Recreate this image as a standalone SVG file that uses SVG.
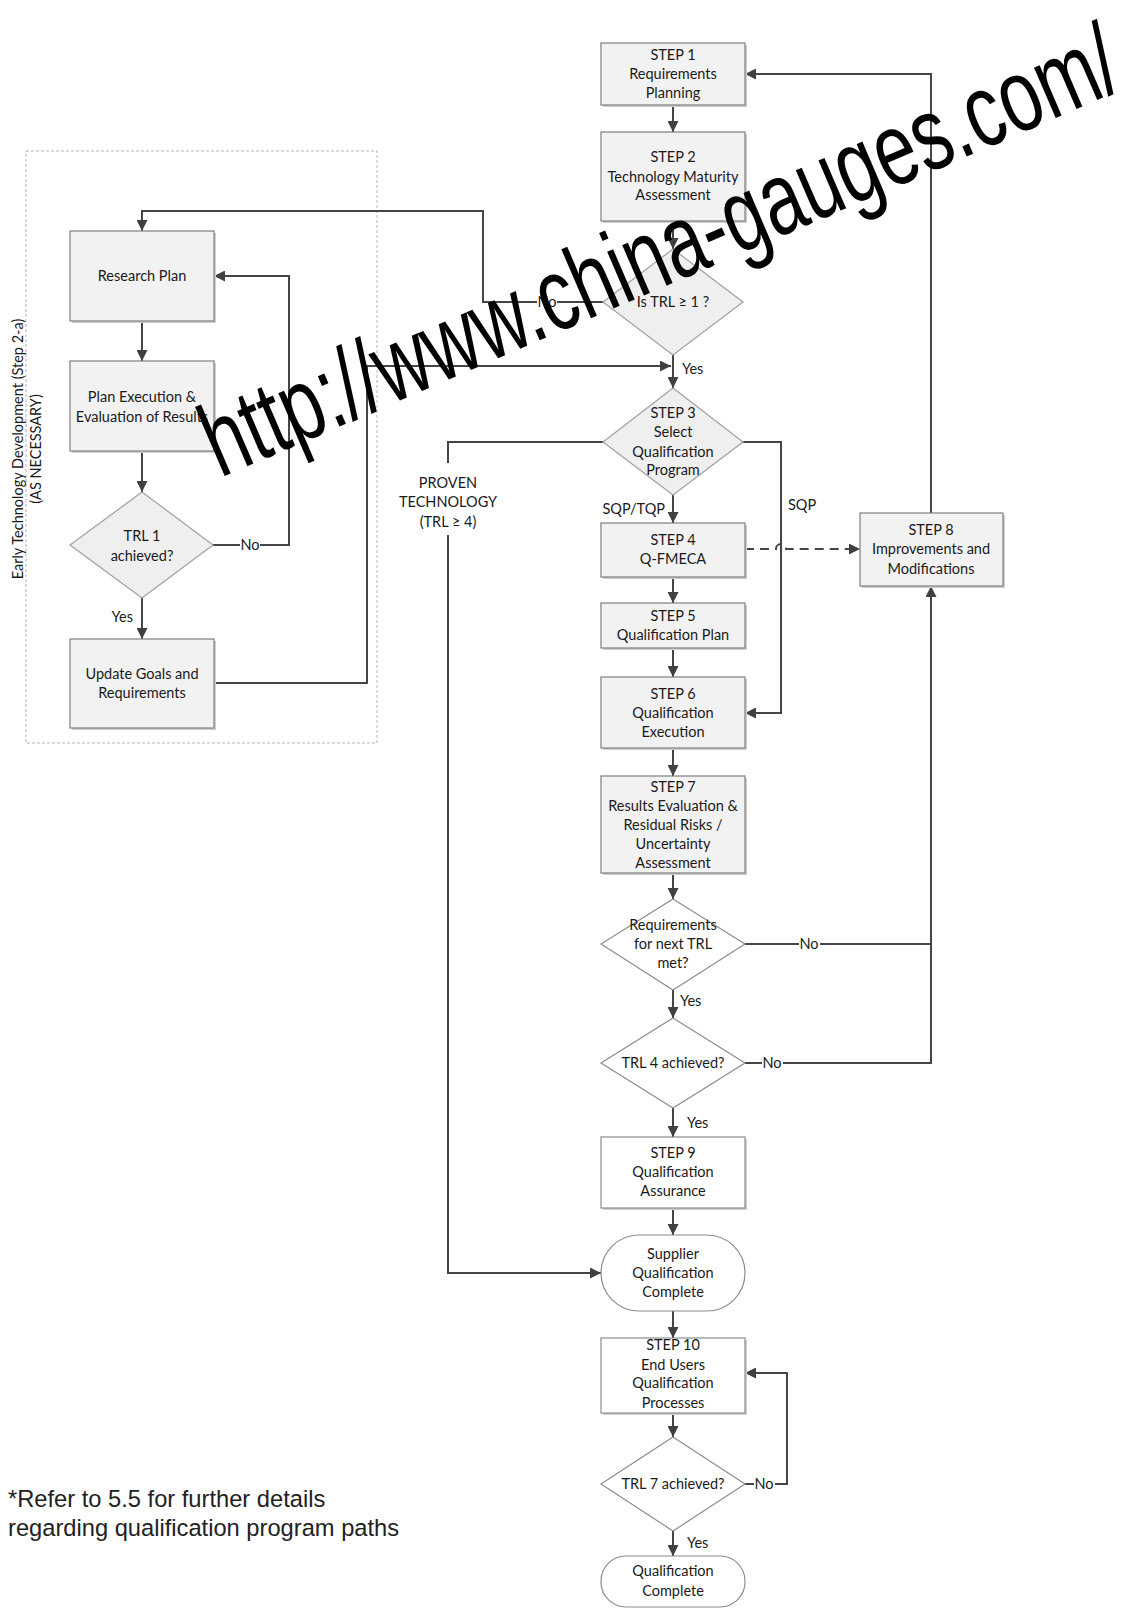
<svg xmlns="http://www.w3.org/2000/svg" width="1131" height="1608" viewBox="0 0 1131 1608">
<defs>
<marker id="ah" viewBox="0 0 10 10" refX="10" refY="5" markerWidth="11" markerHeight="11" markerUnits="userSpaceOnUse" orient="auto"><path d="M0,0 L10,5 L0,10 z" fill="#404040"/></marker>
</defs>
<style>
.t{font-family:Lato,"Liberation Sans",sans-serif;font-size:14.5px;fill:#1a1a1a;text-anchor:middle}
.l{font-family:Lato,"Liberation Sans",sans-serif;font-size:14.5px;fill:#1a1a1a}
.box{fill:#f2f2f2;stroke:#7f7f7f;stroke-width:1.2}
.wbox{fill:#ffffff;stroke:#8c8c8c;stroke-width:1.2}
.sh{fill:#cfcfcf}
.dia{fill:#efefef;stroke:#a0a0a0;stroke-width:1.2}
.wdia{fill:#ffffff;stroke:#8c8c8c;stroke-width:1.2}
.c{fill:none;stroke:#454545;stroke-width:2}
.ca{fill:none;stroke:#454545;stroke-width:2;marker-end:url(#ah)}
.lbg{fill:#ffffff}
</style>
<rect width="1131" height="1608" fill="#ffffff"/>

<!-- Early technology development container -->
<g id="early-dev">
<rect x="26" y="151" width="351" height="592" fill="none" stroke="#b5b5b5" stroke-width="1" stroke-dasharray="3,2"/>
<text class="t" transform="translate(23,449) rotate(-90)">Early Technology Development (Step 2-a)</text>
<text class="t" transform="translate(41,449) rotate(-90)">(AS NECESSARY)</text>
</g>

<g id="connectors">
<path class="ca" d="M673,105 V132"/>
<path class="ca" d="M673,221 V249"/>
<path class="ca" d="M673,355 V388"/>
<path class="ca" d="M603,302 H483 V211 H142 V231"/>
<path class="ca" d="M142,321 V361"/>
<path class="ca" d="M142,451 V492"/>
<path class="ca" d="M142,598 V639"/>
<path class="ca" d="M213,545 H289 V276 H214"/>
<path class="ca" d="M214,683 H367 V366 H671"/>
<path class="ca" d="M673,495 V523"/>
<path class="c" d="M603,442 H448 V463"/>
<path class="ca" d="M448,535 V1273 H601"/>
<path class="ca" d="M743,442 H781 V713 H745"/>
<path class="ca" d="M745,549 H776 A5,5 0 0 1 786,549 H860" stroke-dasharray="9,6"/>
<path class="ca" d="M673,577 V603"/>
<path class="ca" d="M673,648 V677"/>
<path class="ca" d="M673,748 V776"/>
<path class="ca" d="M673,873 V899"/>
<path class="c" d="M745,944 H931" stroke-width="1.5"/>
<path class="ca" d="M673,990 V1018"/>
<path class="ca" d="M745,1063 H931 V586"/>
<path class="ca" d="M673,1108 V1137"/>
<path class="ca" d="M931,513 V74 H745"/>
<path class="ca" d="M673,1208 V1235"/>
<path class="ca" d="M673,1311 V1338"/>
<path class="ca" d="M673,1413 V1437"/>
<path class="ca" d="M745,1484 H787 V1373 H745"/>
<path class="ca" d="M673,1531 V1556"/>
<!-- connector labels -->
<rect class="lbg" x="537" y="293" width="20" height="17"/>
<text class="t" x="547" y="307">No</text>
<rect class="lbg" x="240" y="537" width="20" height="17"/>
<text class="t" x="250" y="550">No</text>
<text class="l" x="133" y="622" text-anchor="end">Yes</text>
<text class="l" x="682" y="374">Yes</text>
<text class="l" x="665" y="514" text-anchor="end">SQP/TQP</text>
<text class="l" x="788" y="510">SQP</text>
<text class="t" x="448" y="488">PROVEN</text>
<text class="t" x="448" y="507">TECHNOLOGY</text>
<text class="t" x="448" y="527">(TRL ≥ 4)</text>
<rect class="lbg" x="799" y="936" width="21" height="17"/>
<text class="t" x="809" y="949">No</text>
<text class="l" x="680" y="1006">Yes</text>
<rect class="lbg" x="762" y="1055" width="21" height="17"/>
<text class="t" x="772" y="1068">No</text>
<text class="l" x="687" y="1128">Yes</text>
<rect class="lbg" x="754" y="1476" width="21" height="17"/>
<text class="t" x="764" y="1489">No</text>
<text class="l" x="687" y="1548">Yes</text>
</g>

<g id="research-plan">
<rect class="sh" x="72" y="233" width="144" height="90"/>
<rect class="box" x="70" y="231" width="144" height="90"/>
<text class="t" x="142" y="281">Research Plan</text>
</g>
<g id="plan-execution">
<rect class="sh" x="72" y="363" width="144" height="90"/>
<rect class="box" x="70" y="361" width="144" height="90"/>
<text class="t" x="142" y="402">Plan Execution &amp;</text>
<text class="t" x="142" y="422">Evaluation of Results</text>
</g>
<g id="trl1">
<polygon class="dia" points="142,492 213,545 142,598 70,545"/>
<text class="t" x="142" y="541">TRL 1</text>
<text class="t" x="142" y="561">achieved?</text>
</g>
<g id="update-goals">
<rect class="sh" x="72" y="641" width="144" height="89"/>
<rect class="box" x="70" y="639" width="144" height="89"/>
<text class="t" x="142" y="679">Update Goals and</text>
<text class="t" x="142" y="698">Requirements</text>
</g>

<g id="step1">
<rect class="sh" x="603" y="45" width="144" height="62"/>
<rect class="box" x="601" y="43" width="144" height="62"/>
<text class="t" x="673" y="60">STEP 1</text>
<text class="t" x="673" y="79">Requirements</text>
<text class="t" x="673" y="98">Planning</text>
</g>
<g id="step2">
<rect class="sh" x="603" y="134" width="144" height="89"/>
<rect class="box" x="601" y="132" width="144" height="89"/>
<text class="t" x="673" y="162">STEP 2</text>
<text class="t" x="673" y="182">Technology Maturity</text>
<text class="t" x="673" y="200">Assessment</text>
</g>
<g id="is-trl1">
<polygon class="dia" points="673,249 743,302 673,355 603,302"/>
<text class="t" x="673" y="307">Is TRL ≥ 1 ?</text>
</g>
<g id="step3">
<polygon class="dia" points="673,388 743,442 673,495 603,442"/>
<text class="t" x="673" y="418">STEP 3</text>
<text class="t" x="673" y="437">Select</text>
<text class="t" x="673" y="457">Qualification</text>
<text class="t" x="673" y="475">Program</text>
</g>
<g id="step4">
<rect class="sh" x="603" y="525" width="144" height="54"/>
<rect class="box" x="601" y="523" width="144" height="54"/>
<text class="t" x="673" y="545">STEP 4</text>
<text class="t" x="673" y="564">Q-FMECA</text>
</g>
<g id="step5">
<rect class="sh" x="603" y="605" width="144" height="45"/>
<rect class="box" x="601" y="603" width="144" height="45"/>
<text class="t" x="673" y="621">STEP 5</text>
<text class="t" x="673" y="640">Qualification Plan</text>
</g>
<g id="step6">
<rect class="sh" x="603" y="679" width="144" height="71"/>
<rect class="box" x="601" y="677" width="144" height="71"/>
<text class="t" x="673" y="699">STEP 6</text>
<text class="t" x="673" y="718">Qualification</text>
<text class="t" x="673" y="737">Execution</text>
</g>
<g id="step7">
<rect class="sh" x="603" y="778" width="144" height="97"/>
<rect class="box" x="601" y="776" width="144" height="97"/>
<text class="t" x="673" y="792">STEP 7</text>
<text class="t" x="673" y="811">Results Evaluation &amp;</text>
<text class="t" x="673" y="830">Residual Risks /</text>
<text class="t" x="673" y="849">Uncertainty</text>
<text class="t" x="673" y="868">Assessment</text>
</g>
<g id="step8">
<rect class="sh" x="862" y="515" width="143" height="73"/>
<rect class="box" x="860" y="513" width="143" height="73"/>
<text class="t" x="931" y="535">STEP 8</text>
<text class="t" x="931" y="554">Improvements and</text>
<text class="t" x="931" y="574">Modifications</text>
</g>
<g id="req-next-trl">
<polygon class="wdia" points="673,899 745,944 673,990 601,944"/>
<text class="t" x="673" y="930">Requirements</text>
<text class="t" x="673" y="949">for next TRL</text>
<text class="t" x="673" y="968">met?</text>
</g>
<g id="trl4">
<polygon class="wdia" points="673,1018 745,1063 673,1108 601,1063"/>
<text class="t" x="673" y="1068">TRL 4 achieved?</text>
</g>
<g id="step9">
<rect class="sh" x="603" y="1139" width="144" height="71"/>
<rect class="wbox" x="601" y="1137" width="144" height="71"/>
<text class="t" x="673" y="1158">STEP 9</text>
<text class="t" x="673" y="1177">Qualification</text>
<text class="t" x="673" y="1196">Assurance</text>
</g>
<g id="supplier-complete">
<rect class="wbox" x="601" y="1235" width="144" height="76" rx="38" ry="38"/>
<text class="t" x="673" y="1259">Supplier</text>
<text class="t" x="673" y="1278">Qualification</text>
<text class="t" x="673" y="1297">Complete</text>
</g>
<g id="step10">
<rect class="sh" x="603" y="1340" width="144" height="75"/>
<rect class="wbox" x="601" y="1338" width="144" height="75"/>
<text class="t" x="673" y="1350">STEP 10</text>
<text class="t" x="673" y="1370">End Users</text>
<text class="t" x="673" y="1388">Qualification</text>
<text class="t" x="673" y="1408">Processes</text>
</g>
<g id="trl7">
<polygon class="wdia" points="673,1437 745,1484 673,1531 601,1484"/>
<text class="t" x="673" y="1489">TRL 7 achieved?</text>
</g>
<g id="qual-complete">
<rect class="wbox" x="601" y="1556" width="144" height="51" rx="25" ry="25"/>
<text class="t" x="673" y="1576">Qualification</text>
<text class="t" x="673" y="1596">Complete</text>
</g>

<g id="footnote">
<text x="8" y="1507" font-family="'Liberation Sans',Arial,sans-serif" font-size="23.7" fill="#222">*Refer to 5.5 for further details</text>
<text x="8" y="1536" font-family="'Liberation Sans',Arial,sans-serif" font-size="23.7" fill="#222">regarding qualification program paths</text>
</g>

<g id="watermark">
<text transform="translate(220 478) rotate(-23.3) scale(1 1.4)" x="0" y="0" font-family="'Liberation Sans',Arial,sans-serif" font-size="74" fill="#000">http://www.china-gauges.com/</text>
</g>
</svg>
